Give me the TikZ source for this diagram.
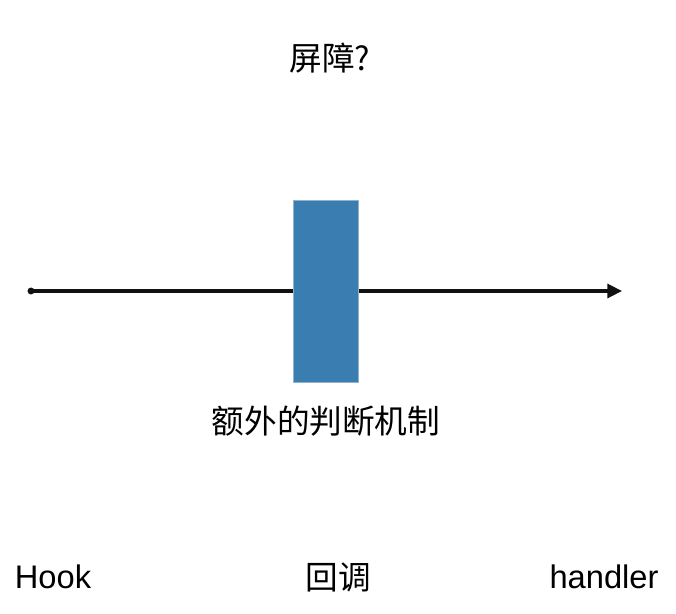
\documentclass[tikz,border=0pt]{standalone}
\usepackage{fontspec}
\setmainfont{Liberation Sans}
\newfontfamily\cjk{Noto Sans CJK SC}
\usetikzlibrary{arrows.meta, positioning}
\definecolor{barrier-fill}{HTML}{3A7DB1}
\definecolor{barrier-border}{HTML}{8FB3CF}
\definecolor{flow-color}{HTML}{111111}
\tikzset{
  barrier-node/.style={
    draw=barrier-border, fill=barrier-fill, line width=0.6pt,
    minimum width=48.75pt, minimum height=136.5pt, inner sep=0pt
  },
  label-node/.style={font=\fontsize{24.5}{29}\selectfont, inner sep=0pt},
  cjk-node/.style={font=\cjk\fontsize{24.5}{29}\selectfont, inner sep=0pt},
  flow/.style={-{Triangle[length=11pt, width=10.5pt]}, line width=2.4pt, draw=flow-color}
}

\begin{document}
\begin{tikzpicture}[x=0.75pt, y=-0.75pt]
  \useasboundingbox (0, 0) rectangle (676, 614);

  \coordinate (start) at (31, 291);
  \coordinate (end)   at (622, 291);
  \draw[flow] (start) -- (end);
  \fill[flow-color] (start) circle (2.6pt);

  \node[barrier-node] (barrier)  at (325.5, 291) {};
  \node[cjk-node]     (question) at (330, 58)    {屏障?};
  \node[cjk-node]     (check)    at (326, 421)   {额外的判断机制};
  \node[label-node]   (hook)     at (53, 577)    {Hook};
  \node[cjk-node]     (callback) at (338, 577)   {回调};
  \node[label-node]   (handler)  at (604, 577)   {handler};
\end{tikzpicture}
\end{document}
